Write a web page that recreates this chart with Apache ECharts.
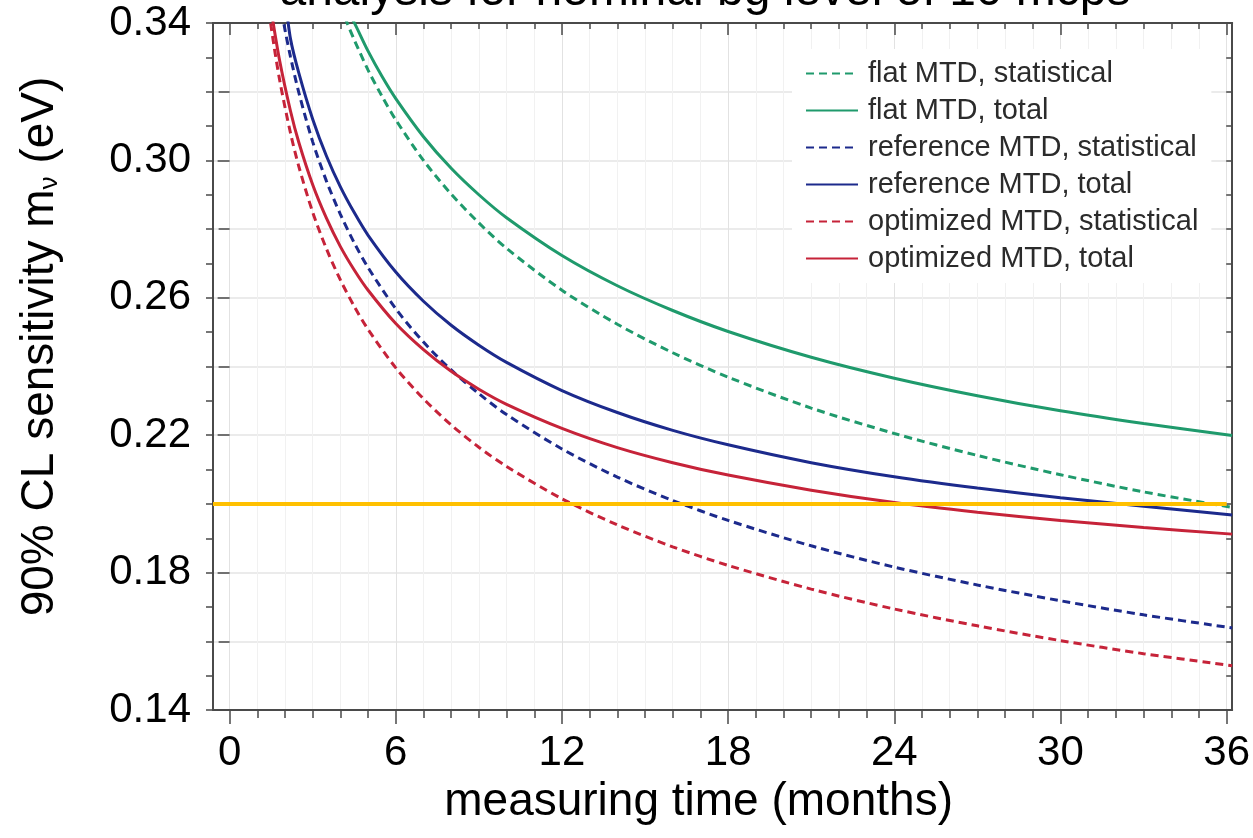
<!DOCTYPE html>
<html>
<head>
<meta charset="utf-8">
<title>Neutrino mass sensitivity vs measuring time</title>
<script src="https://cdn.jsdelivr.net/npm/echarts@6/dist/echarts.min.js"></script>
<style>
  html, body { margin: 0; padding: 0; background: #ffffff; }
  #chart { width: 1253px; height: 838px; }
</style>
</head>
<body>
<div id="chart"></div>
<script>
// Measuring time (months) at which each curve is sampled
const monthsFlat = [4.0, 4.25, 4.5, 5, 5.5, 6, 7, 8, 9, 10, 12, 14, 16, 18, 21, 24, 27, 30, 33, 36.2];
const monthsRef  = [1.8, 2.0, 2.2, 2.5, 3, 3.5, 4, 4.5, 5, 6, 7, 8, 9, 10, 12, 14, 16, 18, 21, 24, 27, 30, 33, 36.2];
const monthsOpt  = [1.3, 1.5, 1.8, 2.2, 2.5, 3, 3.5, 4, 4.5, 5, 6, 7, 8, 9, 10, 12, 14, 16, 18, 21, 24, 27, 30, 33, 36.2];

// 90% CL sensitivity on m_nu (eV)
const flatStat  = [0.3451, 0.3399, 0.3351, 0.3263, 0.3187, 0.3118, 0.3000, 0.2902, 0.2818, 0.2744, 0.2622, 0.2523, 0.2440, 0.2369, 0.2279, 0.2205, 0.2141, 0.2085, 0.2035, 0.1990];
const flatTotal = [0.3486, 0.3437, 0.3401, 0.3318, 0.3245, 0.3180, 0.3069, 0.2977, 0.2900, 0.2833, 0.2723, 0.2635, 0.2563, 0.2502, 0.2427, 0.2366, 0.2315, 0.2271, 0.2234, 0.2199];
const refStat   = [0.3471, 0.3380, 0.3301, 0.3197, 0.3054, 0.2939, 0.2843, 0.2760, 0.2688, 0.2568, 0.2471, 0.2390, 0.2321, 0.2260, 0.2160, 0.2078, 0.2010, 0.1952, 0.1878, 0.1816, 0.1764, 0.1718, 0.1677, 0.1639];
const refTotal  = [0.3561, 0.3471, 0.3353, 0.3254, 0.3120, 0.3012, 0.2923, 0.2848, 0.2782, 0.2675, 0.2590, 0.2520, 0.2462, 0.2412, 0.2330, 0.2266, 0.2214, 0.2172, 0.2120, 0.2079, 0.2046, 0.2018, 0.1993, 0.1968];
const optStat   = [0.3512, 0.3389, 0.3237, 0.3079, 0.2982, 0.2849, 0.2742, 0.2652, 0.2575, 0.2508, 0.2396, 0.2306, 0.2230, 0.2165, 0.2109, 0.2015, 0.1939, 0.1875, 0.1821, 0.1752, 0.1694, 0.1645, 0.1602, 0.1564, 0.1529];
const optTotal  = [0.3540, 0.3437, 0.3293, 0.3143, 0.3052, 0.2929, 0.2831, 0.2749, 0.2681, 0.2622, 0.2525, 0.2449, 0.2386, 0.2334, 0.2290, 0.2220, 0.2164, 0.2120, 0.2084, 0.2040, 0.2004, 0.1976, 0.1952, 0.1931, 0.1912];

// Target sensitivity level (eV) and the months it spans
const targetMonths = [-0.6, 36];
const targetValue = 0.20;

// Axis ticks and labels
const xLabelValues = [0, 6, 12, 18, 24, 30, 36];
const yLabelValues = [0.14, 0.18, 0.22, 0.26, 0.30, 0.34];
const monthTicks = Array.from({ length: 37 }, (_, i) => i);
const yMinorTicks = Array.from({ length: 21 }, (_, i) => +(0.14 + i * 0.01).toFixed(2));
const yGridValues = Array.from({ length: 11 }, (_, i) => +(0.14 + i * 0.02).toFixed(2));

const seriesNames = [
  'flat MTD, statistical',
  'flat MTD, total',
  'reference MTD, statistical',
  'reference MTD, total',
  'optimized MTD, statistical',
  'optimized MTD, total'
];

const GREEN = '#1f9a6c';
const BLUE = '#1c2a8c';
const RED = '#c62339';
const GOLD = '#ffc000';
const AXIS = '#4a4a4a';
const FONT = '"Liberation Sans", Arial, sans-serif';
const DASH = [8, 5];

const X_MIN = -0.6, X_MAX = 36.2, Y_MIN = 0.14, Y_MAX = 0.34;

const pairs = (xs, ys) => xs.map((x, i) => [x, ys[i]]);

function curve(name, xs, ys, color, dashed) {
  return {
    name, type: 'line', data: pairs(xs, ys),
    xAxisIndex: 0, yAxisIndex: 0,
    smooth: 0.3,
    symbol: 'none', clip: true, z: 3,
    lineStyle: { color, width: 3, type: dashed ? DASH : 'solid' },
    itemStyle: { color }
  };
}

function plainX(extra) {
  return Object.assign({
    type: 'value', min: X_MIN, max: X_MAX,
    axisLine: { show: false }, axisLabel: { show: false },
    axisTick: { show: false }, splitLine: { show: false }
  }, extra);
}
function plainY(extra) {
  return Object.assign({
    type: 'value', min: Y_MIN, max: Y_MAX,
    axisLine: { show: false }, axisLabel: { show: false },
    axisTick: { show: false }, splitLine: { show: false }
  }, extra);
}

const chart = echarts.init(document.getElementById('chart'), null, { renderer: 'canvas' });

chart.setOption({
  animation: false,
  backgroundColor: '#ffffff',
  grid: { left: 213, right: 12, top: 23, bottom: 128, containLabel: false },
  graphic: [{
    type: 'text', x: 705, y: -8, silent: true,
    style: {
      text: 'analysis for nominal bg level of 10 mcps',
      fontSize: 48, fontFamily: FONT, fill: '#000000',
      align: 'center', verticalAlign: 'middle'
    }
  }],
  legend: {
    orient: 'vertical', left: 792, top: 49,
    padding: [10, 13, 10, 13], backgroundColor: '#ffffff',
    itemWidth: 52, itemHeight: 14, itemGap: 8,
    selectedMode: false,
    itemStyle: { opacity: 0 },
    textStyle: { fontSize: 29, lineHeight: 29, color: '#2b2b2b', fontFamily: FONT, padding: [0, 0, 0, 5] },
    data: seriesNames
  },
  xAxis: [
    plainX({
      position: 'bottom',
      axisLine: { show: true, onZero: false, lineStyle: { color: AXIS, width: 2 } },
      axisTick: { show: true, customValues: monthTicks, length: 8, lineStyle: { color: AXIS, width: 1.5 } },
      axisLabel: { show: true, customValues: xLabelValues, fontSize: 42, color: '#000', fontFamily: FONT, margin: 22 },
      splitLine: { show: true, lineStyle: { color: '#f1f1f1', width: 1 } },
      name: 'measuring time (months)', nameLocation: 'middle', nameGap: 66,
      nameTextStyle: { fontSize: 46, color: '#000', fontFamily: FONT, padding: [0, 48, 0, 0] }
    }),
    plainX({
      position: 'bottom',
      axisTick: { show: true, customValues: xLabelValues, length: 14, lineStyle: { color: AXIS, width: 1.5 } },
      splitLine: { show: true, lineStyle: { color: '#e2e2e2', width: 1 } }
    }),
    plainX({
      position: 'top',
      axisLine: { show: true, onZero: false, lineStyle: { color: AXIS, width: 2 } },
      axisTick: { show: true, inside: true, customValues: monthTicks, length: 6, lineStyle: { color: AXIS, width: 1.5 } }
    }),
    plainX({
      position: 'top',
      axisTick: { show: true, inside: true, customValues: xLabelValues, length: 12, lineStyle: { color: AXIS, width: 1.5 } }
    })
  ],
  yAxis: [
    plainY({
      position: 'left',
      axisLine: { show: true, onZero: false, lineStyle: { color: AXIS, width: 2 } },
      axisTick: { show: true, customValues: yMinorTicks, length: 7, lineStyle: { color: AXIS, width: 1.5 } },
      axisLabel: {
        show: true, customValues: yLabelValues, fontSize: 42, color: '#000', fontFamily: FONT, margin: 22,
        formatter: v => v.toFixed(2)
      },
      name: '90% CL sensitivity m{sub|ν} (eV)', nameLocation: 'middle', nameRotate: 90, nameGap: 150,
      nameTextStyle: {
        fontSize: 46, color: '#000', fontFamily: FONT, padding: [0, 0, 0, 40],
        rich: { sub: { fontSize: 26, fontFamily: FONT, color: '#000', verticalAlign: 'bottom' } }
      }
    }),
    plainY({
      position: 'left',
      axisTick: { show: true, customValues: yLabelValues, length: 12, lineStyle: { color: AXIS, width: 1.5 } }
    }),
    plainY({
      position: 'left', interval: 0.02,
      axisTick: { show: false, customValues: yGridValues },
      splitLine: { show: true, lineStyle: { color: '#e4e4e4', width: 1.5 } }
    }),
    plainY({
      position: 'right',
      axisLine: { show: true, onZero: false, lineStyle: { color: AXIS, width: 2 } },
      axisTick: { show: true, inside: true, customValues: yMinorTicks, length: 6, lineStyle: { color: AXIS, width: 1.5 } }
    }),
    plainY({
      position: 'right',
      axisTick: { show: true, inside: true, customValues: yGridValues, length: 11, lineStyle: { color: AXIS, width: 1.5 } }
    })
  ],
  series: [
    curve(seriesNames[0], monthsFlat, flatStat, GREEN, true),
    curve(seriesNames[1], monthsFlat, flatTotal, GREEN, false),
    curve(seriesNames[2], monthsRef, refStat, BLUE, true),
    curve(seriesNames[3], monthsRef, refTotal, BLUE, false),
    curve(seriesNames[4], monthsOpt, optStat, RED, true),
    curve(seriesNames[5], monthsOpt, optTotal, RED, false),
    {
      name: 'target', type: 'line', data: targetMonths.map(m => [m, targetValue]),
      xAxisIndex: 0, yAxisIndex: 0, symbol: 'none', silent: true, z: 5,
      lineStyle: { color: GOLD, width: 4 }
    }
  ]
});
</script>
</body>
</html>
